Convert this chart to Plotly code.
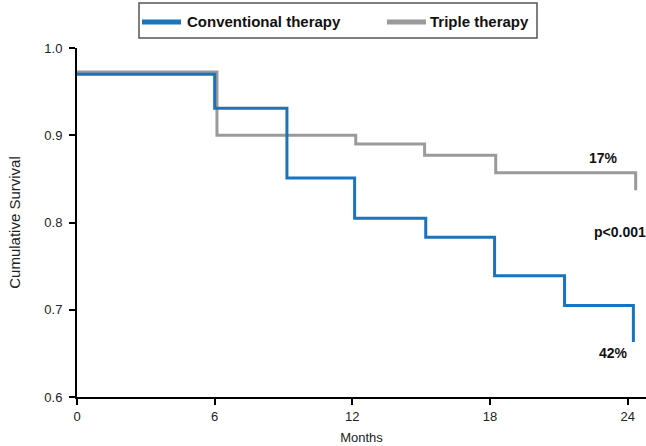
import plotly.graph_objects as go

# Kaplan-Meier step data (months, cumulative survival)
conv_months = [0, 6.0, 9.15, 12.1, 15.2, 18.2, 21.25, 24.25]
conv_surv = [0.970, 0.931, 0.851, 0.805, 0.783, 0.739, 0.705, 0.663]
triple_months = [0, 6.1, 12.15, 15.15, 18.25, 24.35]
triple_surv = [0.9725, 0.900, 0.890, 0.877, 0.857, 0.837]

series_names = ["Conventional therapy", "Triple therapy"]
x_ticks = [0, 6, 12, 18, 24]
y_ticks = [0.6, 0.7, 0.8, 0.9, 1.0]

BLUE = "#1a74bd"
GRAY = "#9a9a9c"
FONT = "Liberation Sans, Arial, sans-serif"

# plot-area geometry (pixels)
L, R, T, B = 77, 0, 48, 49
W, H = 646, 446
PW, PH = W - L - R, H - T - B


def px_x(px):
    return (px - L) / PW


def px_y(py):
    return (H - B - py) / PH


def km_xy(months, surv):
    # hv steps; the last drop is drawn as a vertical segment
    xs = months[:-1] + [months[-1], months[-1]]
    ys = surv[:-1] + [surv[-2], surv[-1]]
    return xs, ys


fig = go.Figure()

tx, ty = km_xy(triple_months, triple_surv)
cx, cy = km_xy(conv_months, conv_surv)
fig.add_trace(go.Scatter(x=tx, y=ty, mode="lines", name=series_names[1],
                         line=dict(color=GRAY, width=3, shape="hv"),
                         showlegend=False, hoverinfo="skip"))
fig.add_trace(go.Scatter(x=cx, y=cy, mode="lines", name=series_names[0],
                         line=dict(color=BLUE, width=3, shape="hv"),
                         showlegend=False, hoverinfo="skip"))

# manual legend box (paper coordinates)
shapes = [
    dict(type="rect", xref="paper", yref="paper",
         x0=px_x(139), x1=px_x(537), y0=px_y(38), y1=px_y(3),
         line=dict(color="#555555", width=1.5), fillcolor="white", layer="above"),
    dict(type="line", xref="paper", yref="paper",
         x0=px_x(142), x1=px_x(181), y0=px_y(22), y1=px_y(22),
         line=dict(color=BLUE, width=5)),
    dict(type="line", xref="paper", yref="paper",
         x0=px_x(387), x1=px_x(426), y0=px_y(22), y1=px_y(22),
         line=dict(color=GRAY, width=5)),
]
leg_font = dict(family=FONT, size=15, color="#111111", weight="bold")
fig.add_annotation(xref="paper", yref="paper", x=px_x(185), y=px_y(22),
                   xanchor="left", yanchor="middle", text="<b>%s</b>" % series_names[0],
                   showarrow=False, font=leg_font)
fig.add_annotation(xref="paper", yref="paper", x=px_x(428), y=px_y(22),
                   xanchor="left", yanchor="middle", text="<b>%s</b>" % series_names[1],
                   showarrow=False, font=leg_font)

ann_font = dict(family=FONT, size=14, color="#111111")
fig.add_annotation(x=22.95, y=0.874, text="<b>17%</b>", showarrow=False, font=ann_font)
fig.add_annotation(x=23.65, y=0.789, text="<b>p<0.001</b>", showarrow=False, font=ann_font)
fig.add_annotation(x=23.4, y=0.650, text="<b>42%</b>", showarrow=False, font=ann_font)

fig.update_layout(
    width=W, height=H,
    margin=dict(l=L, r=R, t=T, b=B),
    plot_bgcolor="white", paper_bgcolor="white",
    font=dict(family=FONT, size=13, color="#222222"),
    showlegend=False,
    shapes=shapes,
    xaxis=dict(
        range=[0, 24.8], tickvals=x_ticks, ticktext=[str(v) for v in x_ticks],
        showgrid=False, zeroline=False, showline=True, linecolor="black", linewidth=2,
        ticks="outside", ticklen=6, tickwidth=2, tickcolor="black",
        title=dict(text="Months", font=dict(size=13), standoff=10),
    ),
    yaxis=dict(
        range=[0.6, 1.0], tickvals=y_ticks, ticktext=[f"{v:.1f}" for v in y_ticks],
        showgrid=False, zeroline=False, showline=True, linecolor="black", linewidth=2,
        ticks="outside", ticklen=6, tickwidth=2, tickcolor="black",
        ticklabelstandoff=4,
        title=dict(text="Cumulative Survival", font=dict(size=15), standoff=20),
    ),
)

fig.write_html(
    "out.html",
    config={"displayModeBar": False},
    post_script="document.body.style.margin='0';document.body.style.overflow='hidden';",
)
